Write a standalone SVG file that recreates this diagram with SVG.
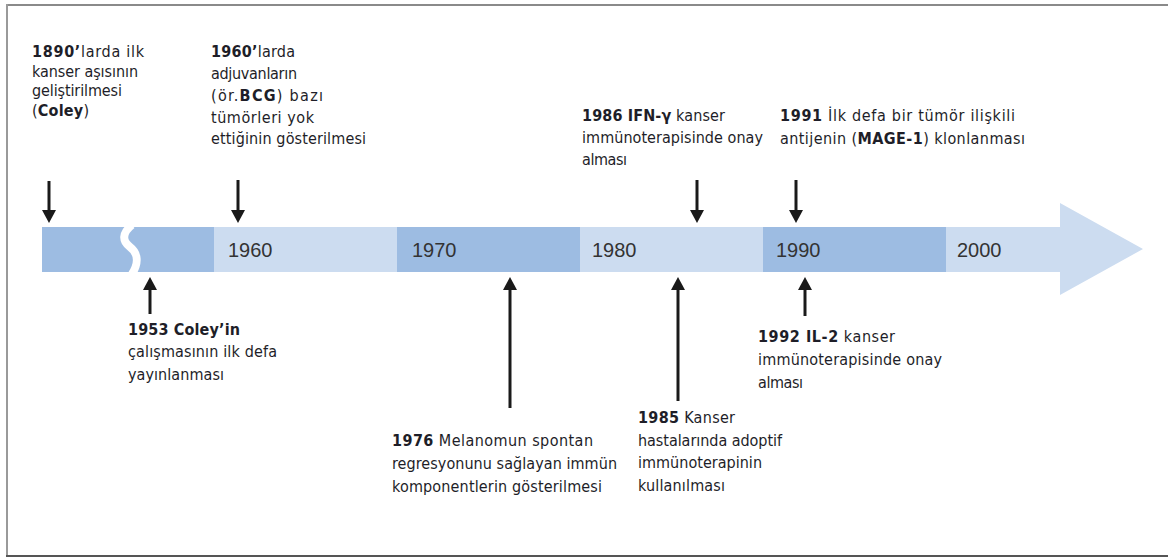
<svg xmlns="http://www.w3.org/2000/svg" width="1168" height="558" viewBox="0 0 1168 558">
<defs>
<style>
.t{font-family:"DejaVu Sans Condensed","DejaVu Sans",sans-serif;font-stretch:condensed;font-size:16px;fill:#1e1e28}
.b{font-weight:bold}
.y{font-family:"Liberation Sans",Arial,sans-serif;font-size:20px;fill:#333}
.dk{fill:#9dbce2}
.lt{fill:#ccdcf0}
.ar{stroke:#1a1a1a;stroke-width:3;fill:none;marker-end:url(#ah)}
</style>
<marker id="ah" viewBox="0 0 13 14" markerWidth="13" markerHeight="14" refX="5" refY="7" orient="auto" markerUnits="userSpaceOnUse">
<path d="M0,0 L13,7 L0,14 z" fill="#1a1a1a"/>
</marker>
</defs>
<rect width="1168" height="558" fill="#fff"/>
<g id="frame" fill="none">
<line x1="6" y1="5" x2="1168" y2="5" stroke="#8a8a8a" stroke-width="2"/>
<line x1="7" y1="4" x2="7" y2="556" stroke="#9a9a9a" stroke-width="2"/>
<line x1="6" y1="556" x2="1168" y2="556" stroke="#555" stroke-width="2"/>
</g>
<g id="timeline">
<rect class="dk" x="42" y="227" width="172" height="45"/>
<path d="M132,225 C122,233 122,241 130,247 C138,253 139,263 132,274" stroke="#fff" stroke-width="8" fill="none"/>
<rect class="lt" x="214" y="227" width="183" height="45"/>
<rect class="dk" x="397" y="227" width="183" height="45"/>
<rect class="lt" x="580" y="227" width="183" height="45"/>
<rect class="dk" x="763" y="227" width="183" height="45"/>
<path class="lt" d="M946,227 L1060,227 L1060,203 L1143,249 L1060,295 L1060,272 L946,272 z"/>
<text class="y" x="228" y="257">1960</text>
<text class="y" x="412" y="257">1970</text>
<text class="y" x="592" y="257">1980</text>
<text class="y" x="776" y="257">1990</text>
<text class="y" x="957" y="257">2000</text>
</g>
<g id="connectors">
<line class="ar" x1="49" y1="181" x2="49" y2="215"/>
<line class="ar" x1="238" y1="180" x2="238" y2="215"/>
<line class="ar" x1="697" y1="180" x2="697" y2="215"/>
<line class="ar" x1="796" y1="180" x2="796" y2="215"/>
<line class="ar" x1="150" y1="314" x2="150" y2="285"/>
<line class="ar" x1="510" y1="408" x2="510" y2="285"/>
<line class="ar" x1="678" y1="401" x2="678" y2="285"/>
<line class="ar" x1="805" y1="316" x2="805" y2="285"/>
</g>
<g id="e1890">
<text class="t" x="32" y="57" textLength="112" lengthAdjust="spacing"><tspan class="b">1890’</tspan>larda ilk</text>
<text class="t" x="32" y="77" textLength="106" lengthAdjust="spacing">kanser aşısının</text>
<text class="t" x="32" y="96" textLength="90" lengthAdjust="spacing">geliştirilmesi</text>
<text class="t" x="32" y="116" textLength="57" lengthAdjust="spacing">(<tspan class="b">Coley</tspan>)</text>
</g>
<g id="e1960">
<text class="t" x="211" y="57" textLength="84" lengthAdjust="spacing"><tspan class="b">1960’</tspan>larda</text>
<text class="t" x="211" y="79" textLength="86" lengthAdjust="spacing">adjuvanların</text>
<text class="t" x="211" y="101" textLength="112" lengthAdjust="spacing">(ör.<tspan class="b">BCG</tspan>) bazı</text>
<text class="t" x="211" y="123" textLength="103" lengthAdjust="spacing">tümörleri yok</text>
<text class="t" x="211" y="144" textLength="155" lengthAdjust="spacing">ettiğinin gösterilmesi</text>
</g>
<g id="e1986">
<text class="t" x="582" y="121" textLength="143" lengthAdjust="spacing"><tspan class="b">1986 IFN-γ</tspan> kanser</text>
<text class="t" x="582" y="143" textLength="181" lengthAdjust="spacing">immünoterapisinde onay</text>
<text class="t" x="582" y="165" textLength="45" lengthAdjust="spacing">alması</text>
</g>
<g id="e1991">
<text class="t" x="780" y="121" textLength="235" lengthAdjust="spacing"><tspan class="b">1991</tspan> İlk defa bir tümör ilişkili</text>
<text class="t" x="780" y="144" textLength="245" lengthAdjust="spacing">antijenin (<tspan class="b">MAGE-1</tspan>) klonlanması</text>
</g>
<g id="e1953">
<text class="t" x="128" y="335" textLength="112" lengthAdjust="spacing"><tspan class="b">1953 Coley’in</tspan></text>
<text class="t" x="128" y="357" textLength="149" lengthAdjust="spacing">çalışmasının ilk defa</text>
<text class="t" x="128" y="380" textLength="96" lengthAdjust="spacing">yayınlanması</text>
</g>
<g id="e1976">
<text class="t" x="392" y="446" textLength="201" lengthAdjust="spacing"><tspan class="b">1976</tspan> Melanomun spontan</text>
<text class="t" x="392" y="469" textLength="225" lengthAdjust="spacing">regresyonunu sağlayan immün</text>
<text class="t" x="392" y="492" textLength="210" lengthAdjust="spacing">komponentlerin gösterilmesi</text>
</g>
<g id="e1985">
<text class="t" x="638" y="423" textLength="97" lengthAdjust="spacing"><tspan class="b">1985</tspan> Kanser</text>
<text class="t" x="638" y="446" textLength="144" lengthAdjust="spacing">hastalarında adoptif</text>
<text class="t" x="638" y="468" textLength="124" lengthAdjust="spacing">immünoterapinin</text>
<text class="t" x="638" y="491" textLength="87" lengthAdjust="spacing">kullanılması</text>
</g>
<g id="e1992">
<text class="t" x="758" y="342" textLength="137" lengthAdjust="spacing"><tspan class="b">1992 IL-2</tspan> kanser</text>
<text class="t" x="758" y="365" textLength="184" lengthAdjust="spacing">immünoterapisinde onay</text>
<text class="t" x="758" y="388" textLength="45" lengthAdjust="spacing">alması</text>
</g>
</svg>
